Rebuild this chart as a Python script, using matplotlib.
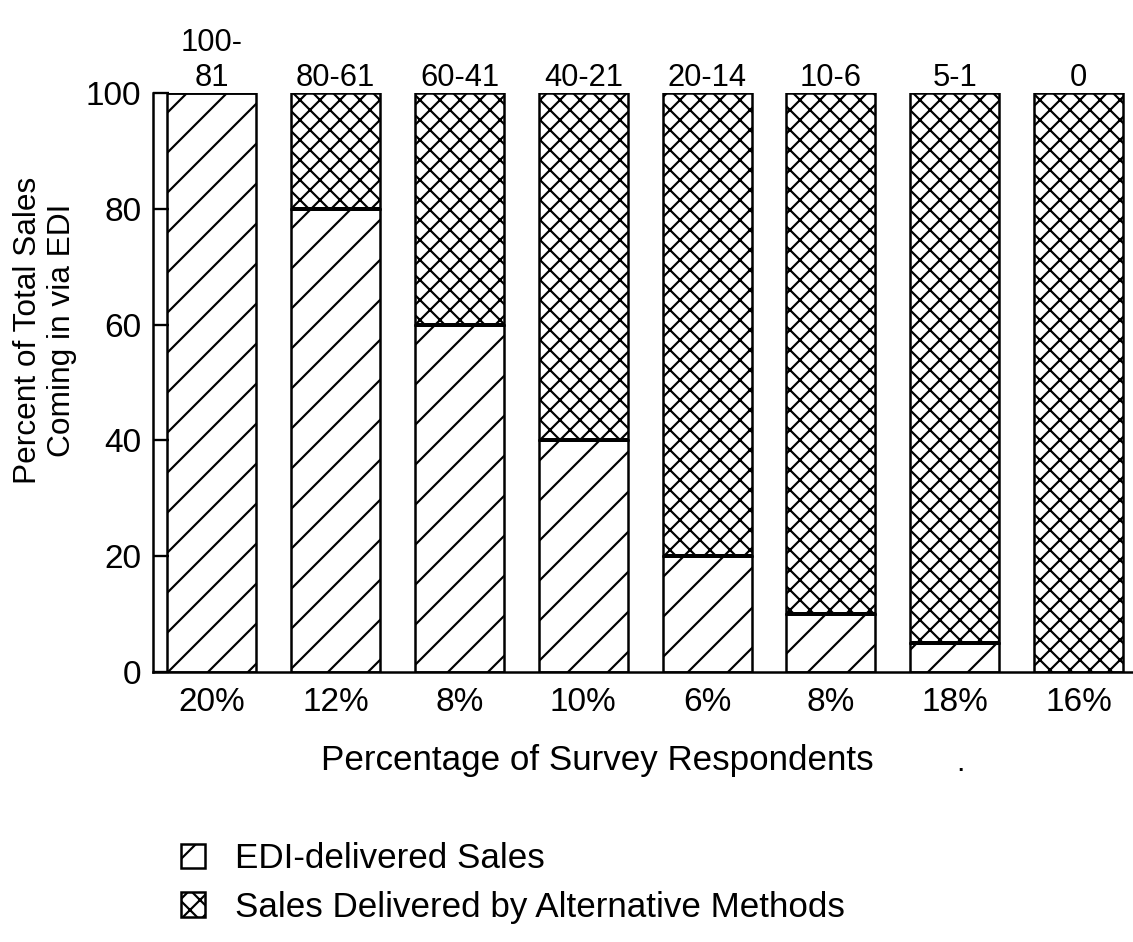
import matplotlib
matplotlib.use('Agg')
import matplotlib.pyplot as plt
import numpy as np

plt.rcParams['font.family'] = ['Liberation Sans', 'DejaVu Sans']
plt.rcParams['hatch.linewidth'] = 1.3

# Daten
top_labels = ['100-\n81', '80-61', '60-41', '40-21', '20-14', '10-6', '5-1', '0']
respondents = ['20%', '12%', '8%', '10%', '6%', '8%', '18%', '16%']
edi_sales = [100, 80, 60, 40, 20, 10, 5, 0]
alt_sales = [100 - v for v in edi_sales]

x = np.arange(len(edi_sales))

# dpi 120 -> groebere Schraffur wie im Original
fig = plt.figure(figsize=(1133 / 120, 942 / 120), dpi=120)
ax = fig.add_axes([0.135, 0.2866, 0.865, 0.6147])

ax.bar(x, edi_sales, width=0.72, color='white', edgecolor='black',
       hatch='/', linewidth=1.5, label='EDI-delivered Sales')
ax.bar(x, alt_sales, width=0.72, bottom=edi_sales, color='white', edgecolor='black',
       hatch='xx', linewidth=1.5, label='Sales Delivered by Alternative Methods')

# dicke Trennlinie zwischen den Segmenten
for xi, v in zip(x, edi_sales):
    if 0 < v < 100:
        ax.plot([xi - 0.36, xi + 0.36], [v, v], color='black', lw=2.4, solid_capstyle='butt')

ax.set_xlim(-0.476, 7.44)
ax.set_ylim(0, 100)
ax.set_yticks([0, 20, 40, 60, 80, 100])
ax.tick_params(axis='y', direction='in', length=9.6, width=1.4, labelsize=20, pad=7)
ax.tick_params(axis='x', length=0, labelsize=20, pad=9)
ax.set_xticks(x)
ax.set_xticklabels(respondents)

for s in ['top', 'right']:
    ax.spines[s].set_visible(False)
ax.spines['left'].set_linewidth(1.5)
ax.spines['bottom'].set_linewidth(1.5)

# Kategorien oben
for xi, lab in zip(x, top_labels):
    ax.text(xi, 100.0, lab, ha='center', va='bottom', fontsize=18.5, linespacing=1.2)

fig.text(45 / 1133, 1 - 330 / 942, 'Percent of Total Sales\nComing in via EDI',
         rotation=90, ha='center', va='center', fontsize=19, linespacing=1.15)
ax.set_xlabel('Percentage of Survey Respondents', fontsize=21)
ax.xaxis.set_label_coords(0.453, -0.125)
fig.text(0.848, 0.182, '.', fontsize=18, ha='center')

handles, labels = ax.get_legend_handles_labels()
fig.legend(handles, labels, loc='upper left', bbox_to_anchor=(0.147, 0.121, 0, 0),
           bbox_transform=fig.transFigure, frameon=False, fontsize=21,
           handlelength=0.7, handleheight=0.7, handletextpad=0.85, labelspacing=0.45,
           borderaxespad=0)

fig.savefig('out.png', dpi=120)
